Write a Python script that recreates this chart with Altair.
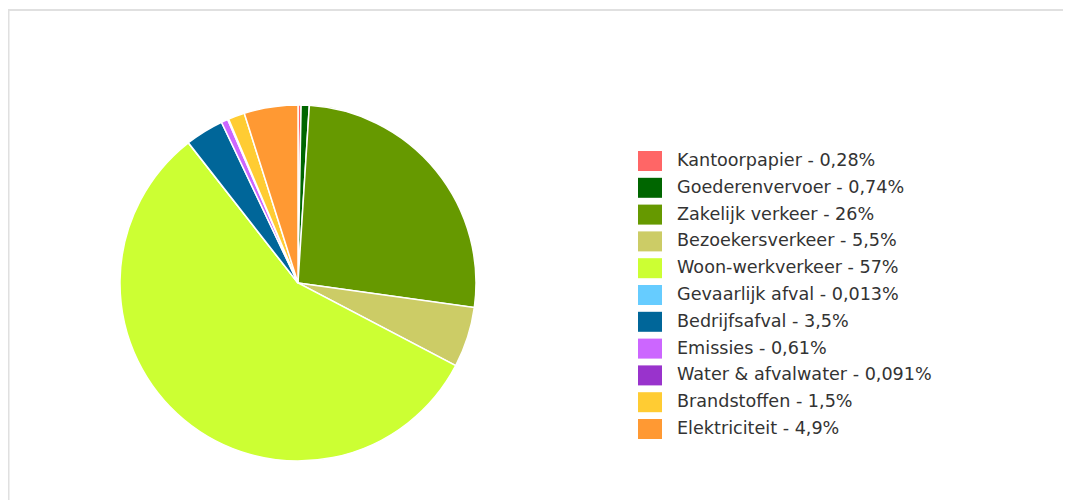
import altair as alt
import pandas as pd

categories = ["Kantoorpapier", "Goederenvervoer", "Zakelijk verkeer", "Bezoekersverkeer",
              "Woon-werkverkeer", "Gevaarlijk afval", "Bedrijfsafval", "Emissies",
              "Water & afvalwater", "Brandstoffen", "Elektriciteit"]
values = [0.28, 0.74, 26.3, 5.5, 57, 0.013, 3.5, 0.61, 0.091, 1.5, 4.9]
value_labels = ["0,28%", "0,74%", "26%", "5,5%", "57%", "0,013%", "3,5%", "0,61%",
                "0,091%", "1,5%", "4,9%"]
colors = ["#ff6666", "#006600", "#669900", "#cccc66", "#ccff33", "#66ccff",
          "#006699", "#cc66ff", "#9933cc", "#ffcc33", "#ff9933"]

legend_labels = [f"{c} - {v}" for c, v in zip(categories, value_labels)]

df = pd.DataFrame({
    "label": legend_labels,
    "value": values,
    "order": list(range(len(values))),
})

W, H = 1055, 492

pie = alt.Chart(df).mark_arc(radius=178, stroke="white", strokeWidth=1.5).encode(
    theta=alt.Theta("value:Q", stack=True),
    order=alt.Order("order:Q"),
    color=alt.Color(
        "label:N",
        scale=alt.Scale(domain=legend_labels, range=colors),
        sort=legend_labels,
        legend=alt.Legend(
            title=None,
            orient="none",
            legendX=632,
            legendY=143,
            symbolType="M-1.2,-1L1.2,-1L1.2,1L-1.2,1Z",
            symbolSize=400,
            symbolStrokeWidth=0,
            symbolOpacity=1,
            labelFont="DejaVu Sans",
            labelFontSize=17.6,
            labelColor="#333333",
            labelOffset=17,
            rowPadding=6.8,
            labelLimit=400,
        ),
    ),
    x=alt.value(290),
    y=alt.value(275),
)

frame_df = pd.DataFrame({"a": [0]})
top_rule = alt.Chart(frame_df).mark_rule(color="#e0e0e0", strokeWidth=2).encode(
    x=alt.value(0), x2=alt.value(W), y=alt.value(2)
)
left_rule = alt.Chart(frame_df).mark_rule(color="#e0e0e0", strokeWidth=2).encode(
    x=alt.value(0.5), y=alt.value(1), y2=alt.value(H)
)

chart = alt.layer(top_rule, left_rule, pie).properties(
    width=W, height=H, padding=0,
    autosize=alt.AutoSizeParams(type="none"),
).configure_view(stroke=None)

chart.save("out.html", embed_options={"renderer": "svg", "actions": False})
